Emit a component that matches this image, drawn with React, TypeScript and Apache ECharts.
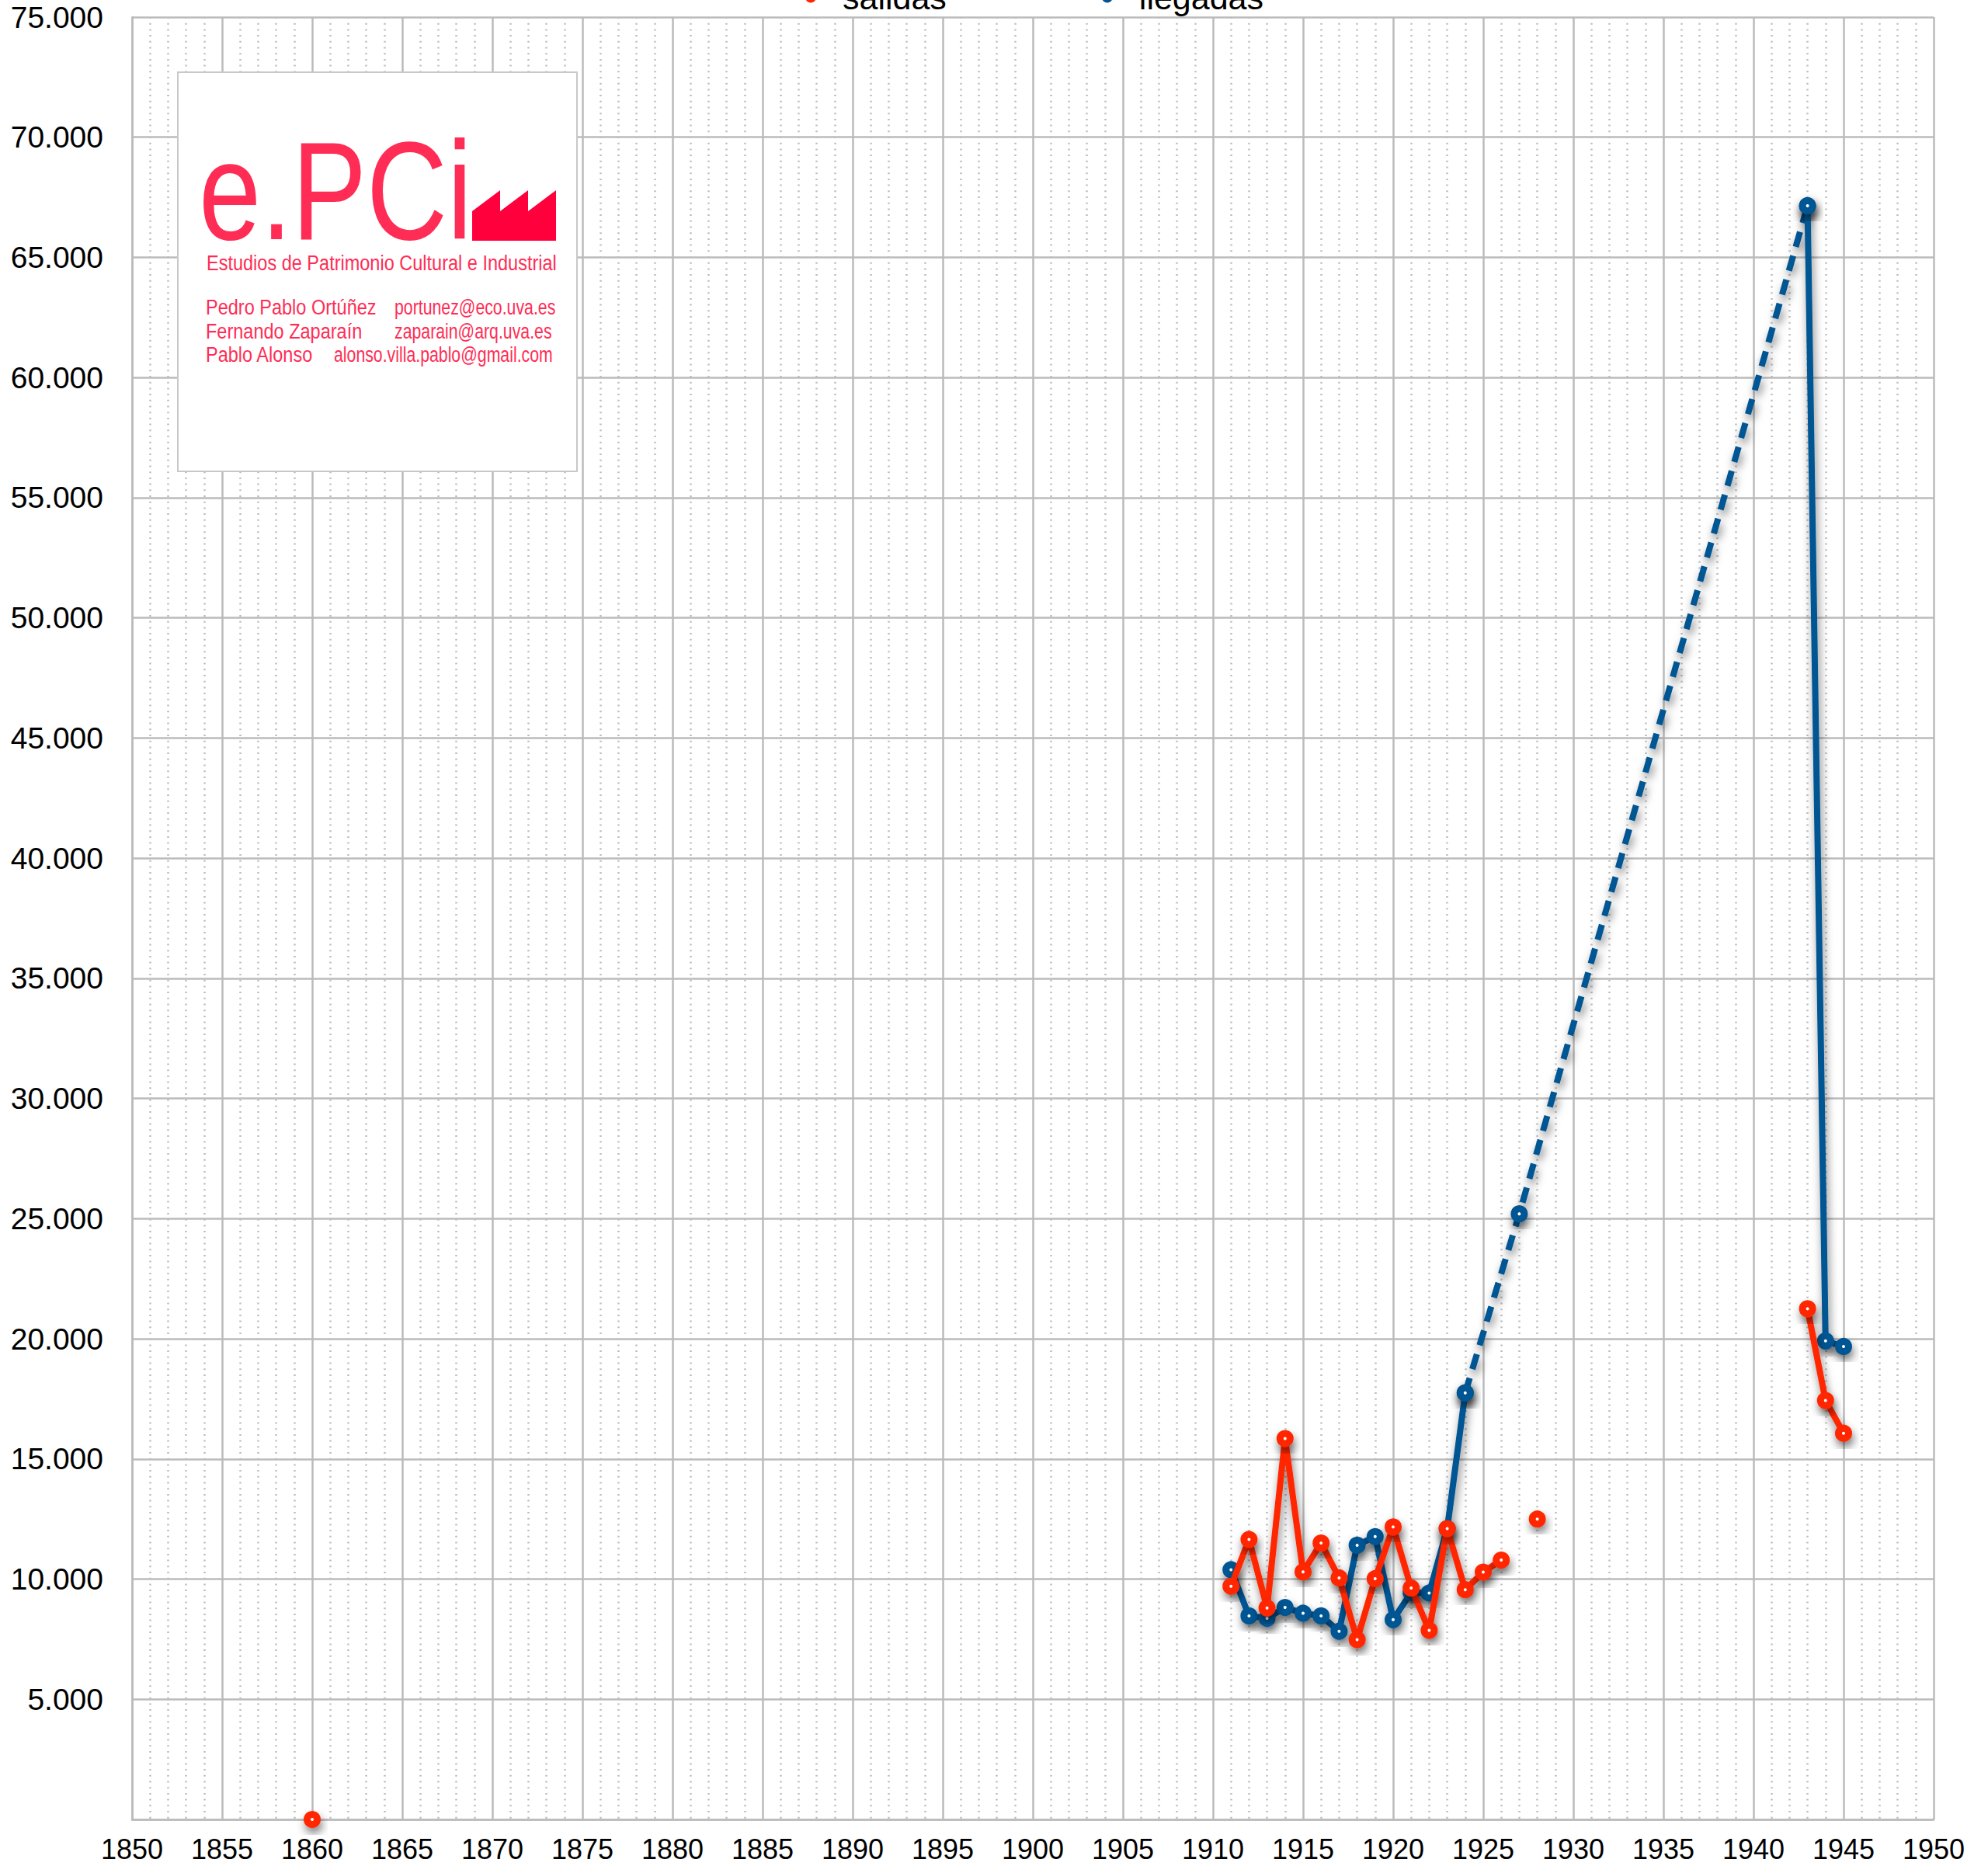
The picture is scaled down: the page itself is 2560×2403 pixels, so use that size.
import React, { useEffect, useRef } from "react";
import * as echarts from "echarts";

// ---- Data ----
const salidasYears = [1860, 1911, 1912, 1913, 1914, 1915, 1916, 1917, 1918, 1919, 1920, 1921, 1922, 1923, 1924, 1925, 1926, 1928, 1943, 1944, 1945];
const salidasValues = [0, 9700, 11650, 8800, 15850, 10300, 11500, 10050, 7480, 10020, 12170, 9630, 7870, 12100, 9560, 10290, 10790, 12500, 21250, 17430, 16070];

const llegadasYears = [1911, 1912, 1913, 1914, 1915, 1916, 1917, 1918, 1919, 1920, 1921, 1922, 1923, 1924, 1943, 1944, 1945];
const llegadasValues = [10390, 8470, 8370, 8820, 8580, 8470, 7830, 11410, 11770, 8310, 9440, 9420, 12100, 17750, 67150, 19910, 19680];

// estimated stretch (dashed)
const llegadasEstYears = [1924, 1927, 1943];
const llegadasEstValues = [17750, 25200, 67150];

const xTicks = { min: 1850, max: 1950, interval: 5 };
const yTicks = { min: 0, max: 75000, interval: 5000 };

const RED = "#ff2600";
const BLUE = "#005493";
const LOGO = "#ff2d55";
const FONT = '"Liberation Sans", Arial, Helvetica, sans-serif';

function withGaps(years: number[], values: number[]) {
  const out: any[] = [];
  for (let i = 0; i < years.length; i++) {
    if (i > 0 && years[i] - years[i - 1] > 1) out.push([years[i - 1] + 1, null]);
    out.push([years[i], values[i]]);
  }
  return out;
}

function pairs(years: number[], values: number[]) {
  return years.map((y, i) => [y, values[i]]);
}

function fmt(v: number) {
  if (v === 0) return "";
  return String(v).replace(/\B(?=(\d{3})+(?!\d))/g, ".");
}

const shadow = { shadowColor: "rgba(0,0,0,0.5)", shadowBlur: 12, shadowOffsetX: 2, shadowOffsetY: 7 };

export default function App() {
  const ref = useRef<HTMLDivElement>(null);
  useEffect(() => {
    if (!ref.current) return;
    const chart = echarts.init(ref.current, null, { renderer: "svg" });
    const markerStyle = (c: string) => ({ color: "#ffffff", borderColor: c, borderWidth: 9, ...shadow });

    const logoText = (text: string, x: number, baseline: number, size: number, sx: number, fill = LOGO) => ({
      type: "text",
      x,
      y: baseline + 0.14 * size,
      scaleX: sx,
      z: 101,
      style: { text, font: `${size}px ${FONT}`, fill, align: "left", verticalAlign: "bottom", lineHeight: size },
    });

    chart.setOption({
      animation: false,
      backgroundColor: "#ffffff",
      textStyle: { fontFamily: FONT },
      grid: { left: 170, right: 70, top: 22, bottom: 60, containLabel: false, outerBoundsMode: "none" },
      legend: {
        top: -30,
        left: 1032,
        itemWidth: 72,
        itemHeight: 14,
        itemGap: 200,
        icon: "circle",
        textStyle: { fontSize: 43, color: "#000", fontFamily: FONT },
        data: [
          { name: "salidas", icon: "circle", itemStyle: { color: RED, borderWidth: 0, shadowBlur: 0 } },
          { name: "llegadas", icon: "circle", itemStyle: { color: BLUE, borderWidth: 0, shadowBlur: 0 } },
        ],
      },
      xAxis: {
        type: "value",
        min: xTicks.min,
        max: xTicks.max,
        interval: xTicks.interval,
        axisLine: { show: true, lineStyle: { color: "#bbbbbb", width: 2.5 } },
        axisTick: { show: false },
        axisLabel: { fontSize: 36, color: "#000", margin: 20, fontFamily: FONT, formatter: (v: number) => String(v) },
        splitLine: { show: true, lineStyle: { color: "#bbbbbb", width: 2.5 } },
        minorTick: { show: false, splitNumber: 5 },
        minorSplitLine: { show: true, lineStyle: { color: "#bdbdbd", width: 2.5, type: [2, 5.7] } },
      },
      yAxis: {
        type: "value",
        min: yTicks.min,
        max: yTicks.max,
        interval: yTicks.interval,
        axisLine: { show: true, lineStyle: { color: "#bbbbbb", width: 2.5 } },
        axisTick: { show: false },
        axisLabel: { fontSize: 39, color: "#000", margin: 37, fontFamily: FONT, formatter: fmt },
        splitLine: { show: true, lineStyle: { color: "#bbbbbb", width: 2.5 } },
      },
      graphic: [
        {
          type: "rect",
          z: 100,
          shape: { x: 229, y: 93, width: 514, height: 514 },
          style: { fill: "#ffffff", stroke: "#c8c8c8", lineWidth: 2 },
        },
        logoText("e.PCi", 256, 310, 180, 0.8),
        {
          type: "polygon",
          z: 101,
          shape: {
            points: [
              [608, 310], [608, 272], [644, 245], [644, 272], [680, 245], [680, 272], [716, 245], [716, 310],
            ],
          },
          style: { fill: "#ff003c" },
        },
        logoText("Estudios de Patrimonio Cultural e Industrial", 266, 348, 28, 0.84),
        logoText("Pedro Pablo Ortúñez", 265, 405, 28, 0.84),
        logoText("portunez@eco.uva.es", 508, 405, 28, 0.76),
        logoText("Fernando Zaparaín", 265, 436, 28, 0.84),
        logoText("zaparain@arq.uva.es", 508, 436, 28, 0.76),
        logoText("Pablo Alonso", 265, 466, 28, 0.84),
        logoText("alonso.villa.pablo@gmail.com", 430, 466, 28, 0.76),
      ],
      series: [
        {
          name: "llegadas",
          type: "line",
          data: withGaps(llegadasYears, llegadasValues),
          connectNulls: false,
          clip: false,
          symbol: "circle",
          symbolSize: 13,
          showSymbol: true,
          lineStyle: { color: BLUE, width: 8, ...shadow },
          itemStyle: markerStyle(BLUE),
          z: 3,
        },
        {
          name: "llegadas",
          type: "line",
          data: pairs(llegadasEstYears, llegadasEstValues),
          clip: false,
          symbol: "circle",
          symbolSize: 13,
          showSymbol: true,
          lineStyle: { color: BLUE, width: 8, type: [20, 12], ...shadow },
          itemStyle: markerStyle(BLUE),
          z: 2,
        },
        {
          name: "salidas",
          type: "line",
          data: withGaps(salidasYears, salidasValues),
          connectNulls: false,
          clip: false,
          symbol: "circle",
          symbolSize: 13,
          showSymbol: true,
          lineStyle: { color: RED, width: 8, ...shadow },
          itemStyle: markerStyle(RED),
          z: 4,
        },
      ],
    });
    return () => chart.dispose();
  }, []);
  return <div ref={ref} style={{ position: "absolute", left: 0, top: 0, width: 2560, height: 2403 }} />;
}
